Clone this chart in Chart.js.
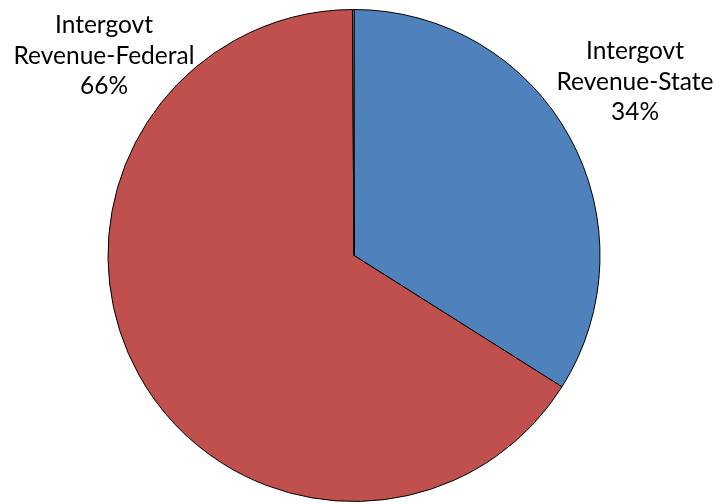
<!DOCTYPE html>
<html>
<head>
<meta charset="utf-8">
<script src="https://cdn.jsdelivr.net/npm/chart.js@4/dist/chart.umd.min.js"></script>
<style>
  html, body { margin: 0; padding: 0; background: #fff; }
  #wrap { width: 727px; height: 504px; }
</style>
</head>
<body>
<div id="wrap"><canvas id="revPie" width="727" height="504"></canvas></div>
<script>
// revenue split
const categories = ['Intergovt Revenue-State', 'Intergovt Revenue-Federal', 'Other'];
const shares = [34, 66, 0.1];
const sliceColors = ['#4F81BD', '#C0504D', '#9BBB59'];
const showLabel = [true, true, false];

// where each outside label sits (centre x, first baseline)
const labelSpots = [
    { x: 635, y: 59 },
    { x: 104, y: 33 },
    null
];

const sliceLabels = {
    id: 'sliceLabels',
    afterDraw(chart) {
        const ctx = chart.ctx;
        const total = shares.reduce((a, b) => a + b, 0);
        ctx.save();
        ctx.font = '24.5px Lato';
        ctx.fillStyle = '#000';
        ctx.textAlign = 'center';
        ctx.textBaseline = 'alphabetic';
        categories.forEach((name, i) => {
            if (!showLabel[i] || !labelSpots[i]) return;
            const pct = Math.round(shares[i] / total * 100) + '%';
            const lines = name.split(' ').concat(pct);
            lines.forEach((t, k) => ctx.fillText(t, labelSpots[i].x, labelSpots[i].y + k * 30.5));
        });
        ctx.restore();
    }
};

new Chart(document.getElementById('revPie').getContext('2d'), {
    type: 'pie',
    data: {
        labels: categories,
        datasets: [{
            data: shares,
            backgroundColor: sliceColors,
            borderColor: '#000',
            borderWidth: 1
        }]
    },
    options: {
        responsive: false,
        animation: false,
        devicePixelRatio: 1,
        layout: { padding: { top: 9, bottom: 2, left: 107, right: 126 } },
        plugins: { legend: { display: false }, tooltip: { enabled: false } }
    },
    plugins: [sliceLabels]
});
</script>
</body>
</html>
